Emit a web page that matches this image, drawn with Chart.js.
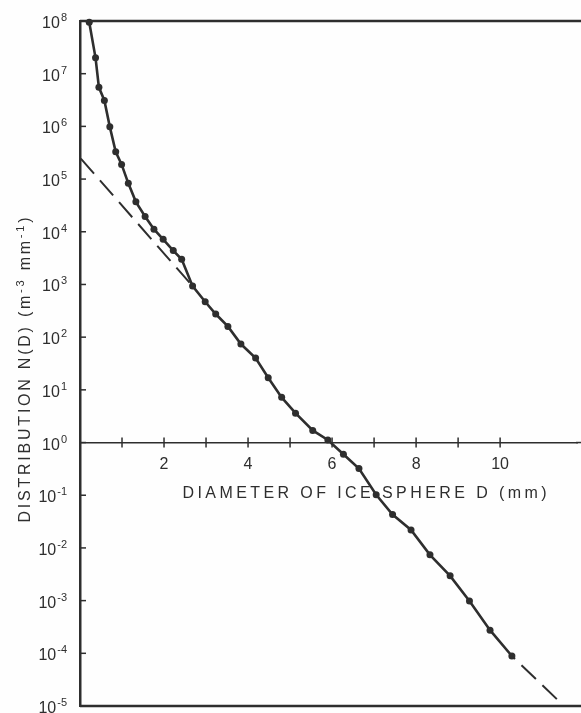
<!DOCTYPE html>
<html>
<head>
<meta charset="utf-8" />
<title>Ice sphere size distribution</title>
<script src="https://cdn.jsdelivr.net/npm/chart.js@4.4.1/dist/chart.umd.min.js"></script>
<style>
  html, body { margin: 0; padding: 0; background: #fefefe; }
  #wrap { width: 581px; height: 713px; }
</style>
</head>
<body>
<div id="wrap"><canvas id="chart" width="581" height="713"></canvas></div>
<script>
// measured points, D in mm, N(D) in m^-3 mm^-1
const diameters = [0.22, 0.37, 0.45, 0.58, 0.71, 0.85, 0.99, 1.15, 1.33, 1.55, 1.76, 1.98,
                   2.22, 2.42, 2.68, 2.98, 3.23, 3.52, 3.83, 4.18, 4.48, 4.80, 5.13, 5.54,
                   5.90, 6.27, 6.64, 7.05, 7.44, 7.88, 8.33, 8.81, 9.27, 9.76, 10.28];
const counts = [9.5e7, 2.0e7, 5.5e6, 3.1e6, 9.8e5, 3.3e5, 1.9e5, 8.3e4, 3.7e4, 1.95e4, 1.12e4, 7.2e3,
                4.4e3, 3.0e3, 9.3e2, 4.7e2, 2.75e2, 1.6e2, 74, 40, 17, 7.2, 3.6, 1.7,
                1.12, 0.60, 0.32, 0.102, 0.043, 0.022, 7.4e-3, 2.95e-3, 9.8e-4, 2.75e-4, 8.9e-5];

// exponential fit, drawn dashed only beyond the measured part
const fitUpperD = [0.02, 2.68];
const fitUpperN = [2.45e5, 9.3e2];
const fitLowerD = [11.35, 10.28];
const fitLowerN = [1.35e-5, 8.9e-5];

const xLabelled = [2, 4, 6, 8, 10];
const decades = [8, 7, 6, 5, 4, 3, 2, 1, 0, -1, -2, -3, -4, -5];

const xTitle = [{ t: 'DIAMETER OF ICE SPHERE D (mm)' }];
const yTitle = [{ t: 'DISTRIBUTION N(D) (m' }, { t: '-3', sup: true }, { t: ' mm' }, { t: '-1', sup: true }, { t: ')' }];

const ink = '#2e2e2e';
const face = '"Liberation Sans", Arial, sans-serif';

function setFont(ctx, sup) {
  ctx.font = (sup ? '11px ' : '16px ') + face;
}

// natural width of the segments without extra spacing
function naturalWidth(ctx, segs) {
  let w = 0, n = 0;
  segs.forEach(s => {
    setFont(ctx, s.sup);
    for (const ch of s.t) { w += ctx.measureText(ch).width; n++; }
  });
  return { w, n };
}

// draws text char by char so it can be spread to a given width
function drawSpaced(ctx, segs, target) {
  const { w, n } = naturalWidth(ctx, segs);
  const gap = (target - w) / (n - 1);
  let x = -target / 2;
  ctx.textAlign = 'left';
  ctx.textBaseline = 'alphabetic';
  segs.forEach(s => {
    setFont(ctx, s.sup);
    for (const ch of s.t) {
      ctx.fillText(ch, x, s.sup ? 0 : 6);
      x += ctx.measureText(ch).width + gap;
    }
  });
}

const frame = {
  id: 'frame',
  afterDraw(chart) {
    const { ctx, chartArea: a, scales: { x, y } } = chart;
    ctx.save();
    ctx.strokeStyle = ink;
    ctx.fillStyle = ink;

    // top and bottom of the box, running off the right edge
    ctx.lineWidth = 2.5;
    ctx.beginPath();
    ctx.moveTo(a.left, a.top); ctx.lineTo(chart.width, a.top);
    ctx.moveTo(a.left, a.bottom); ctx.lineTo(chart.width, a.bottom);
    ctx.stroke();

    // y ticks point inward, labels as 10 with exponent
    ctx.lineWidth = 1.5;
    y.ticks.forEach(t => {
      const py = y.getPixelForValue(t.value);
      ctx.beginPath();
      ctx.moveTo(a.left, py); ctx.lineTo(a.left + 6, py);
      ctx.stroke();
      const exp = String(Math.round(Math.log10(t.value)));
      ctx.textAlign = 'right';
      ctx.textBaseline = 'alphabetic';
      setFont(ctx, true);
      const ew = ctx.measureText(exp).width;
      ctx.fillText(exp, a.left - 13, py);
      setFont(ctx, false);
      ctx.fillText('10', a.left - 14 - ew, py + 7);
    });

    // x axis line continues to the edge; ticks cross it at D = 1, 2, ...
    const base = y.getPixelForValue(1);
    ctx.beginPath();
    ctx.moveTo(a.right - 1, base); ctx.lineTo(chart.width, base);
    ctx.stroke();
    x.ticks.forEach(t => {
      if (t.value <= 0 || !Number.isInteger(t.value)) return;
      const px = x.getPixelForValue(t.value);
      ctx.beginPath();
      ctx.moveTo(px, base - 5); ctx.lineTo(px, base + 5);
      ctx.stroke();
    });

    // axis titles
    ctx.save();
    ctx.translate(364.5, 492);
    drawSpaced(ctx, xTitle, 364);
    ctx.restore();

    ctx.save();
    ctx.translate(24, 370);
    ctx.rotate(-Math.PI / 2);
    drawSpaced(ctx, yTitle, 305);
    ctx.restore();

    ctx.restore();
  }
};

const fitStyle = {
  borderColor: ink,
  borderWidth: 2,
  borderDash: [20, 9],
  pointRadius: 0,
  clip: false
};

new Chart(document.getElementById('chart'), {
  type: 'line',
  data: {
    datasets: [
      {
        data: diameters.map((d, i) => ({ x: d, y: counts[i] })),
        borderColor: ink,
        borderWidth: 2.6,
        pointRadius: 3.5,
        pointBackgroundColor: ink,
        pointBorderWidth: 0,
        tension: 0,
        clip: false
      },
      Object.assign({ data: fitUpperD.map((d, i) => ({ x: d, y: fitUpperN[i] })) }, fitStyle),
      Object.assign({ data: fitLowerD.map((d, i) => ({ x: d, y: fitLowerN[i] })) }, fitStyle)
    ]
  },
  options: {
    responsive: false,
    animation: false,
    layout: { padding: { top: 21, right: 0, bottom: 7, left: 0 } },
    plugins: { legend: { display: false }, tooltip: { enabled: false } },
    scales: {
      x: {
        type: 'linear',
        position: { y: 1 },
        min: 0,
        max: 11.83,
        afterFit: s => { s.paddingLeft = 0; s.paddingRight = 0; },
        grid: { display: false, drawTicks: false },
        border: { color: ink, width: 1.5 },
        ticks: {
          stepSize: 1,
          autoSkip: false,
          maxRotation: 0,
          padding: 12,
          color: ink,
          font: { family: face, size: 16 },
          callback: v => xLabelled.includes(v) ? String(v) : ''
        }
      },
      y: {
        type: 'logarithmic',
        min: 1e-5,
        max: 1e8,
        afterBuildTicks: s => { s.ticks = decades.map(e => ({ value: parseFloat('1e' + e) })); },
        afterFit: s => { s.width = 80; s.paddingTop = 0; s.paddingBottom = 0; },
        grid: { display: false, drawTicks: false },
        border: { color: ink, width: 2.5 },
        ticks: { display: false }
      }
    }
  },
  plugins: [frame]
});
</script>
</body>
</html>
